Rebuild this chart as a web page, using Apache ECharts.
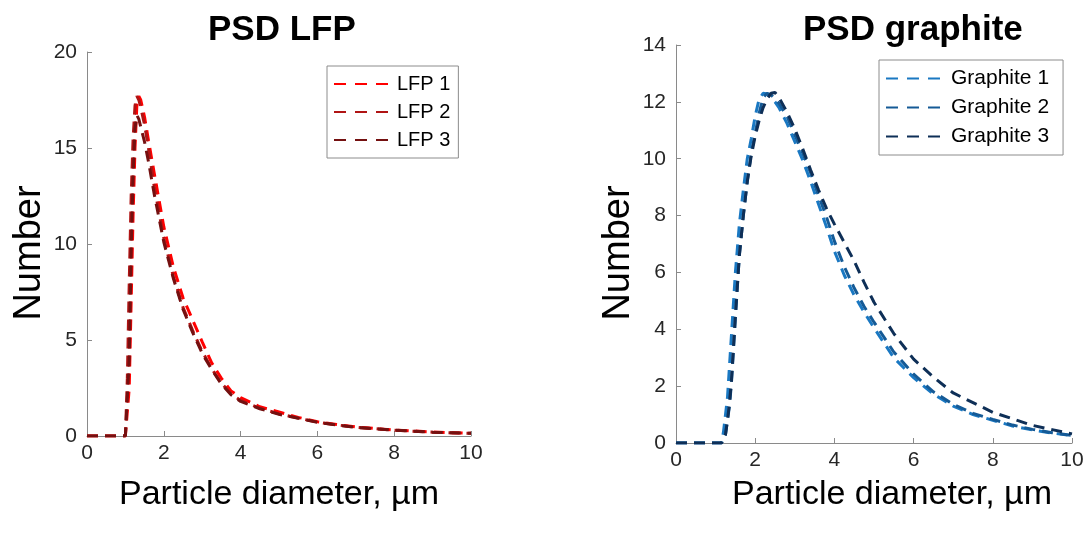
<!DOCTYPE html>
<html>
<head>
<meta charset="utf-8">
<script src="https://cdn.jsdelivr.net/npm/echarts@6/dist/echarts.min.js"></script>
<style>
  html, body { margin: 0; padding: 0; background: #fff; }
  #chart { width: 1092px; height: 537px; }
</style>
</head>
<body>
<div id="chart"></div>
<script>
// Particle size distributions: LFP (left panel) and graphite (right panel)
const lfpX = [0, 0.5, 1.0, 1.05, 1.1, 1.15, 1.2, 1.25, 1.3, 1.35, 1.4, 1.5, 1.6, 1.75, 2.0, 2.25,
  2.5, 2.75, 3.0, 3.25, 3.5, 3.75, 4.0, 4.5, 5.0, 5.5, 6.0, 6.5, 7.0, 8.0, 9.0, 10.0];
const lfp1 = [0, 0, 0, 0, 2.5, 7, 11.5, 15, 17.3, 17.7, 17.5, 16.6, 15.4, 13.7, 10.9, 8.8,
  7.2, 6.05, 4.9, 3.8, 3.0, 2.35, 2.0, 1.52, 1.25, 0.97, 0.74, 0.6, 0.47, 0.31, 0.21, 0.14];
const lfp2 = [0, 0, 0, 3, 8, 12.5, 15.5, 17.2, 17.7, 17.5, 17.1, 16.2, 15.0, 13.0, 10.3, 8.3,
  6.7, 5.5, 4.4, 3.5, 2.75, 2.2, 1.85, 1.45, 1.15, 0.93, 0.72, 0.58, 0.46, 0.3, 0.2, 0.14];
const lfp3 = [0, 0, 0, 0, 4, 9.5, 13.5, 16.0, 16.7, 16.5, 16.1, 15.3, 14.3, 12.6, 10.1, 8.2,
  6.6, 5.4, 4.3, 3.45, 2.7, 2.15, 1.8, 1.42, 1.13, 0.92, 0.71, 0.57, 0.45, 0.3, 0.2, 0.14];

const graphX = [0, 0.5, 1.0, 1.15, 1.2, 1.25, 1.3, 1.35, 1.4, 1.5, 1.6, 1.7, 1.8, 1.9, 2.0, 2.1,
  2.2, 2.3, 2.4, 2.5, 2.6, 2.8, 3.0, 3.2, 3.4, 3.6, 3.8, 4.0, 4.25, 4.5, 4.75, 5.0, 5.5, 6.0,
  6.5, 7.0, 7.5, 8.0, 8.5, 9.0, 9.5, 10.0];
const graphite1 = [0, 0, 0, 0, 0.4, 1.0, 1.6, 2.7, 3.8, 6.0, 7.7, 8.9, 10.0, 10.7, 11.5, 12.1,
  12.3, 12.28, 12.15, 12.0, 11.8, 11.25, 10.6, 9.95, 9.2, 8.4, 7.6, 6.75, 5.9, 5.2, 4.6, 4.05, 3.0, 2.3,
  1.72, 1.3, 1.0, 0.8, 0.6, 0.46, 0.35, 0.26];
const graphite2 = [0, 0, 0, 0, 0, 0.3, 0.8, 1.3, 2.1, 4.4, 6.6, 8.0, 9.2, 10.2, 10.9, 11.6,
  12.15, 12.3, 12.25, 12.1, 11.95, 11.5, 10.85, 10.2, 9.5, 8.7, 7.95, 7.1, 6.2, 5.45, 4.8, 4.25, 3.2, 2.42,
  1.8, 1.36, 1.04, 0.83, 0.63, 0.48, 0.36, 0.27];
const graphite3 = [0, 0, 0, 0, 0, 0.3, 0.8, 1.4, 2.2, 4.5, 6.6, 8.0, 9.2, 10.1, 10.8, 11.35,
  11.8, 12.1, 12.3, 12.33, 12.15, 11.65, 11.05, 10.35, 9.6, 8.9, 8.25, 7.7, 7.05, 6.4, 5.65, 4.95, 3.85, 2.95,
  2.32, 1.76, 1.42, 1.08, 0.85, 0.62, 0.47, 0.32];

const lfpNames = ['LFP 1', 'LFP 2', 'LFP 3'];
const lfpColors = ['#ff0000', '#b01414', '#741010'];
const graphNames = ['Graphite 1', 'Graphite 2', 'Graphite 3'];
const graphColors = ['#1a78c2', '#155a96', '#0e2f57'];

const FONT = '"Liberation Sans", Arial, Helvetica, sans-serif';
const AXIS_COLOR = '#8a8a8a';
const TEXT_COLOR = '#262626';

const pairs = (xs, ys) => xs.map((x, i) => [x, ys[i]]);

function lineSeries(name, color, xs, ys, axis) {
  return {
    name, type: 'line', xAxisIndex: axis, yAxisIndex: axis,
    data: pairs(xs, ys), symbol: 'none', smooth: false, animation: false,
    lineStyle: { color, width: 3, type: [11, 7] },
    itemStyle: { color }
  };
}

function xAxisCfg(gridIndex, gap, namePad) {
  return {
    type: 'value', gridIndex, min: 0, max: 10, interval: 2,
    name: 'Particle diameter, µm', nameLocation: 'middle', nameGap: gap,
    nameTextStyle: { fontSize: 34, color: '#000', fontFamily: FONT, padding: namePad },
    axisLine: { show: true, lineStyle: { color: AXIS_COLOR, width: 1 } },
    axisTick: { show: true, inside: true, length: 5, lineStyle: { color: AXIS_COLOR } },
    axisLabel: { fontSize: 21, color: TEXT_COLOR, fontFamily: FONT, margin: 7 },
    splitLine: { show: false }
  };
}

function yAxisCfg(gridIndex, max, interval, gap) {
  return {
    type: 'value', gridIndex, min: 0, max, interval,
    name: 'Number', nameLocation: 'middle', nameGap: gap,
    nameTextStyle: { fontSize: 38, color: '#000', fontFamily: FONT, padding: [0, 18, 0, 0] },
    axisLine: { show: true, lineStyle: { color: AXIS_COLOR, width: 1 } },
    axisTick: { show: true, inside: true, length: 5, lineStyle: { color: AXIS_COLOR } },
    axisLabel: { fontSize: 21, color: TEXT_COLOR, fontFamily: FONT, margin: 10 },
    splitLine: { show: false }
  };
}

function legendCfg(names, left, top, itemWidth, fontSize, padRight) {
  return {
    data: names, orient: 'vertical', left, top,
    itemWidth, itemHeight: 12, itemGap: 8,
    padding: [8, padRight, 8, 6],
    borderColor: '#8c8c8c', borderWidth: 1, backgroundColor: '#fff',
    itemStyle: { opacity: 0 },
    lineStyle: { type: [12, 9] },
    textStyle: { fontSize, color: '#000', fontFamily: FONT, padding: [0, 0, 0, 3] }
  };
}

const chart = echarts.init(document.getElementById('chart'), null, { renderer: 'canvas' });
chart.setOption({
  animation: false,
  backgroundColor: '#fff',
  title: [
    { text: 'PSD LFP', left: 203, top: 8,
      textStyle: { fontSize: 35, fontWeight: 'bold', color: '#000', fontFamily: FONT } },
    { text: 'PSD graphite', left: 798, top: 8,
      textStyle: { fontSize: 35, fontWeight: 'bold', color: '#000', fontFamily: FONT } }
  ],
  grid: [
    { left: 87, top: 52, width: 384, height: 384 },
    { left: 676, top: 45, width: 396, height: 398 }
  ],
  xAxis: [xAxisCfg(0, 42, [0, 0, 0, 0]), xAxisCfg(1, 35, [0, 0, 0, 36])],
  yAxis: [yAxisCfg(0, 20, 5, 38), yAxisCfg(1, 14, 2, 38)],
  legend: [
    legendCfg(lfpNames, 327, 66, 55, 20, 8),
    legendCfg(graphNames, 879, 60, 57, 21, 14)
  ],
  series: [
    lineSeries(lfpNames[0], lfpColors[0], lfpX, lfp1, 0),
    lineSeries(lfpNames[1], lfpColors[1], lfpX, lfp2, 0),
    lineSeries(lfpNames[2], lfpColors[2], lfpX, lfp3, 0),
    lineSeries(graphNames[0], graphColors[0], graphX, graphite1, 1),
    lineSeries(graphNames[1], graphColors[1], graphX, graphite2, 1),
    lineSeries(graphNames[2], graphColors[2], graphX, graphite3, 1)
  ]
});
</script>
</body>
</html>
